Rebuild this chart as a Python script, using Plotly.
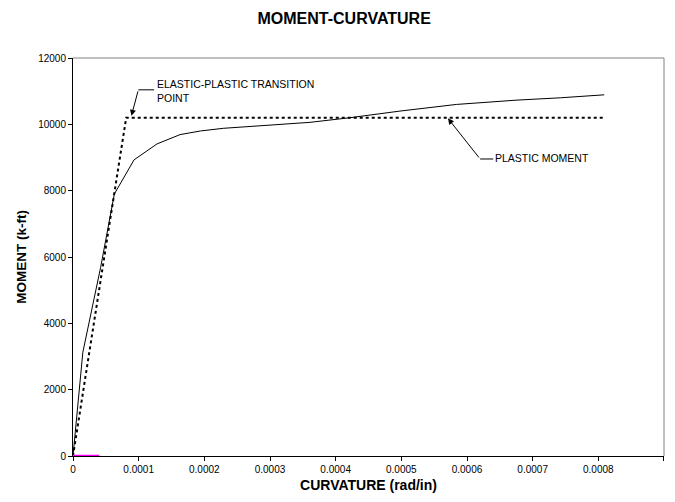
import plotly.graph_objects as go

# Moment-curvature curve
curv = [0, 1.5e-5, 4.2e-5, 6.3e-5, 9.3e-5, 1.28e-4, 1.63e-4, 1.94e-4, 2.29e-4, 2.9e-4, 3.46e-4,
        3.61e-4, 4.22e-4, 4.98e-4, 5.84e-4, 6.76e-4, 7.42e-4, 8.09e-4]
moment = [0, 3130, 5680, 7900, 8930, 9410, 9690, 9800, 9880, 9960, 10030,
          10060, 10200, 10400, 10600, 10730, 10800, 10890]

# Idealized elastic-plastic (bilinear) line
ep_curv = [0, 8.1e-5, 8.09e-4]
ep_moment = [0, 10200, 10200]

# Zero series (magenta)
zero_curv = [0, 4.0e-5]
zero_moment = [0, 0]

x_ticks = [0, 0.0001, 0.0002, 0.0003, 0.0004, 0.0005, 0.0006, 0.0007, 0.0008, 0.0009]
x_ticklabels = ["0", "0.0001", "0.0002", "0.0003", "0.0004", "0.0005", "0.0006", "0.0007", "0.0008", "0.0009"]
y_ticks = [0, 2000, 4000, 6000, 8000, 10000, 12000]

fig = go.Figure()
fig.add_trace(go.Scatter(x=ep_curv, y=ep_moment, mode="lines",
                         line=dict(color="black", width=2, dash="dot"), showlegend=False))
fig.add_trace(go.Scatter(x=curv, y=moment, mode="lines",
                         line=dict(color="black", width=1), showlegend=False))
fig.add_trace(go.Scatter(x=zero_curv, y=zero_moment, mode="lines",
                         line=dict(color="#FF00FF", width=2.5), showlegend=False))

font = "Arial, Liberation Sans, sans-serif"

fig.update_layout(
    width=667, height=494,
    margin=dict(l=65, r=11, t=50, b=46, autoexpand=False),
    paper_bgcolor="white", plot_bgcolor="white",
    title=dict(text="<b>MOMENT-CURVATURE</b>", x=0.504, xanchor="center", y=0.979, yanchor="middle",
               font=dict(family=font, size=16, color="black"), automargin=False),
    font=dict(family=font, color="black"),
    xaxis=dict(range=[0, 0.00090001], tickvals=x_ticks, ticktext=x_ticklabels, automargin=False,
               showgrid=False, zeroline=False, showline=True, linecolor="black", linewidth=1,
               ticks="outside", ticklen=4, tickcolor="black", tickfont=dict(size=10),
               layer="below traces",
               title=dict(text="<b>CURVATURE (rad/in)</b>", font=dict(size=14), standoff=6)),
    yaxis=dict(range=[0, 12000], tickvals=y_ticks, tickformat="d", automargin=False,
               showgrid=False, zeroline=False, showline=True, linecolor="black", linewidth=1,
               ticks="outside", ticklen=4, tickcolor="black", tickfont=dict(size=10),
               layer="below traces",
               title=dict(text="<b>MOMENT (k-ft)</b>", font=dict(size=13.5), standoff=8)),
    shapes=[
        dict(type="line", xref="paper", yref="paper", x0=0, x1=1, y0=1, y1=1,
             line=dict(color="#808080", width=1)),
        dict(type="line", xref="paper", yref="paper", x0=1, x1=1, y0=0, y1=1,
             line=dict(color="#808080", width=1)),
        # leader horizontal segments
        dict(type="line", xref="x", yref="y", x0=0.0000995, x1=0.0001235, y0=11040, y1=11040,
             line=dict(color="black", width=1)),
        dict(type="line", xref="x", yref="y", x0=0.000620, x1=0.000640, y0=8955, y1=8955,
             line=dict(color="black", width=1)),
    ],
    annotations=[
        dict(x=0.0000890, y=10260, xref="x", yref="y", ax=0.0000995, ay=11040, axref="x", ayref="y",
             text="", showarrow=True, arrowhead=2, arrowsize=1.2, arrowwidth=1, arrowcolor="black"),
        dict(x=0.0001255, y=11010, xref="x", yref="y", xanchor="left", yanchor="middle", align="left",
             text="ELASTIC-PLASTIC TRANSITION<br>POINT", showarrow=False,
             font=dict(size=10.5, color="black")),
        dict(x=0.000571, y=10180, xref="x", yref="y", ax=0.000620, ay=8955, axref="x", ayref="y",
             text="", showarrow=True, arrowhead=2, arrowsize=1.2, arrowwidth=1, arrowcolor="black"),
        dict(x=0.000640, y=8970, xref="x", yref="y", xanchor="left", yanchor="middle",
             text="PLASTIC MOMENT", showarrow=False, font=dict(size=10.5, color="black")),
    ],
)

fig.write_html("out.html")
